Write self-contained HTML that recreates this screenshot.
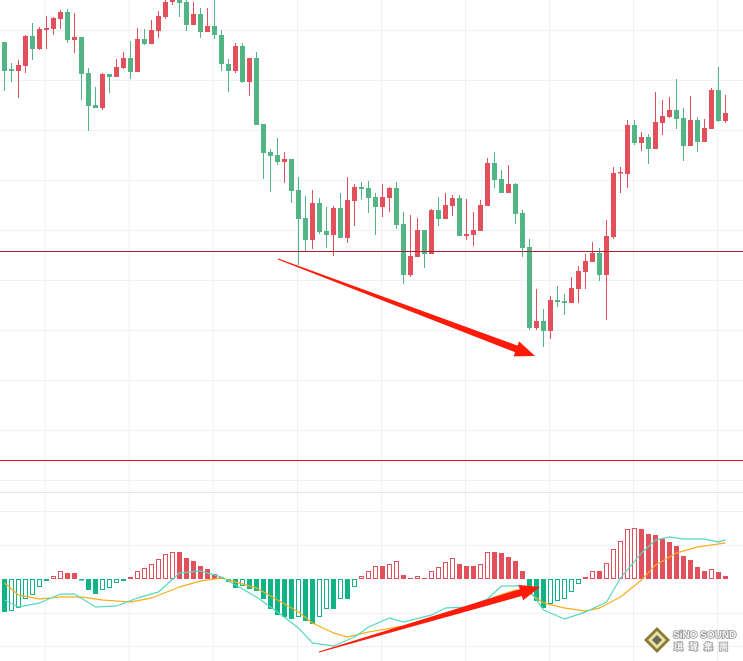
<!DOCTYPE html>
<html><head><meta charset="utf-8"><style>
html,body{margin:0;padding:0;background:#fff;}
svg{display:block;}
</style></head><body>
<svg id="chart" width="743" height="661" viewBox="0 0 743 661" xmlns="http://www.w3.org/2000/svg">
<g id="grid"></g>
<g id="candles"></g>
<g id="macd"></g>
<line x1="0" y1="251.5" x2="743" y2="251.5" stroke="#a8202a" stroke-width="1"/>
<line x1="0" y1="460.5" x2="743" y2="460.5" stroke="#e0101f" stroke-width="1"/>
<line x1="0" y1="492.5" x2="743" y2="492.5" stroke="#e3e6ea" stroke-width="1"/>
<polygon fill="#ff1a0a" points="277.8,259.5 515.1,352.2 513.5,356.4 535,356 519.1,341.4 517.5,345.6 278.2,258.5"/>
<polygon fill="#ff1a0a" points="319.1,652.5 521.8,596 523.1,600.3 540,587 518.5,584.9 519.8,589.2 318.9,651.5"/>
<g>
<polygon points="657,627 670,640 657,653 644,640" fill="#8a7d3a"/>
<polygon points="657,631 666,640 657,649 648,640" fill="#e8e0a0"/>
<polygon points="657,635 662,640 657,645 652,640" fill="#6a6a5a"/>
<text x="673" y="638" font-family="Liberation Sans, sans-serif" font-weight="bold" font-size="10" fill="#f6f6f6" stroke="#999" stroke-width="1.6" paint-order="stroke">SiNO SOUND</text>
<text x="674" y="650" font-family="Liberation Sans, 'Noto Sans CJK TC', sans-serif" font-weight="bold" font-size="9" fill="#f6f6f6" stroke="#999" stroke-width="1.6" paint-order="stroke" letter-spacing="6">琪聲集團</text>
</g>
</svg>
<script>
// Candles: open, high, low, close
const opens=[358,331,329,334,364,351,370,371,381,388,360,363,327,295,292,326,323,332,342,328,361,356,369,383,398,400,398,375,386,368,374,365,336,329,354,318,342,276,248,245,238,241,210,182,160,197,169,165,192,162,199,213,212,203,193,202,212,176,125,143,170,146,190,181,194,202,164,165,169,194,237,221,207,216,187,153,72,79,69,100,99,97,111,128,138,147,125,163,227,226,275,257,263,251,277,283,290,282,254,280,258,271,310,279];
const highs=[358,337,340,365,377,373,384,383,390,391,387,363,332,313,327,326,341,348,359,372,371,380,389,400,410,402,402,398,392,392,402,370,341,357,357,342,348,276,251,262,248,241,223,204,210,202,193,194,207,223,216,218,219,207,216,213,218,188,185,182,170,191,203,207,205,205,201,188,200,242,248,230,235,217,190,161,111,91,104,114,106,123,134,146,158,152,180,233,233,280,280,268,266,308,300,303,321,292,304,283,281,312,333,305];
const lows=[309,318,302,327,340,350,351,365,371,357,347,300,269,292,290,307,323,331,321,328,355,356,362,381,395,383,369,375,362,368,361,329,308,327,317,304,275,221,208,235,217,197,135,149,151,166,152,144,162,157,174,200,187,165,183,188,171,116,123,143,132,146,174,181,184,164,160,154,169,194,212,207,207,176,143,70,70,53,61,93,85,97,97,111,138,119,80,161,207,212,255,249,236,251,265,282,271,239,254,248,258,271,278,277];
const closes=[329,329,335,364,351,371,372,382,388,360,363,326,294,292,326,323,333,342,328,361,356,370,384,398,404,397,375,386,368,374,365,336,329,354,318,342,275,247,244,238,241,209,181,160,197,168,165,192,162,200,213,211,202,193,203,212,175,125,144,170,146,190,181,195,202,164,166,170,195,237,220,207,216,186,152,72,79,69,100,98,97,112,129,139,147,125,164,227,228,275,257,263,251,278,284,290,281,254,280,258,272,310,279,287];
// MACD histogram and line samples [candle index, value]
const hist=[-33,-32,-29,-20,-16,-8,-2,3,8,6,6,-1.5,-11,-15,-11,-9,-4,-1,2,8,11,15,20,25,27,27,21,18,13,10,5,2,-3,-9,-7,-10,-12,-20,-30,-36,-38,-40,-38,-42,-45,-38,-30,-30,-20,-20,-8,3,8,13,13,15,18,4,1,3,1,8,12,17,21,15,13,13,15,27,27,26,22,18,8,-10,-22,-29,-25,-22,-20,-13,-5,2,8,8,16,30,38,50,51,50,45,44,40,37,33,23,19,12,8,10,7,3];
const difIdx=[0,2,5,8,10,13,16,19,22,25,28,31,33,36,39,42,44,47,50,52,55,57,61,63,66,69,71,74,75,77,80,83,86,88,91,93,95,97,100,102,103];
const difVal=[-21,-28,-24,-15,-15,-28,-27,-19,-13,6,8,2,-6,-18,-33,-49,-64,-67,-58,-48,-39,-43,-36,-29,-28,-20,-7,-7,-11,-31,-40,-33,-23,1,26,39,42,40,40,37,39];
const deaIdx=[0,2,5,8,11,14,18,21,25,28,31,33,36,39,42,44,47,49,52,57,61,65,67,70,73,75,77,80,83,85,88,91,93,96,99,101,103];
const deaVal=[-4,-16,-20,-18,-18,-21,-23,-19,-8,-2,1,-3,-9,-21,-33,-44,-54,-58,-53,-47,-41,-34,-27,-18,-11,-14,-24,-29,-32,-29,-18,-1,14,26,32,34,36];

const NS="http://www.w3.org/2000/svg";
const xScale=i=>4.5+7*i;
const yPrice=p=>400-p;
const yMacd=v=>579-v;
const UP="#e2505c", DN="#53b585";
function mk(tag,attrs,parent){const e=document.createElementNS(NS,tag);for(const k in attrs)e.setAttribute(k,attrs[k]);parent.appendChild(e);return e;}

const grid=document.getElementById('grid');
[45,129,213,297.5,381.5,465.5,549.5,633.5,717.5].forEach(x=>{
  const l=mk('line',{x1:x,y1:0,x2:x,y2:661,stroke:'#eef2f6','stroke-width':1},grid);
  
  
});
[30.5,80.5,130.5,180.5,230.5,280.5,330.5,380.5,430.5,480.5,511.5,545.5,613.5,646.5].forEach(y=>{
  const l=mk('line',{x1:0,y1:y,x2:743,y2:y,stroke:'#eef2f6','stroke-width':1},grid);
  
  
});

const cg=document.getElementById('candles');
for(let i=0;i<opens.length;i++){
  const o=opens[i],c=closes[i],up=c>=o,col=up?UP:DN,x=xScale(i);
  const g=mk('g',{},cg);
  
  
  mk('line',{x1:x,y1:yPrice(highs[i]),x2:x,y2:yPrice(lows[i]),stroke:col,'stroke-width':1},g);
  const top=yPrice(Math.max(o,c)),h=Math.max(1.5,Math.abs(o-c));
  mk('rect',{x:x-2.5,y:top,width:5,height:h,fill:col},g);
}

const mg=document.getElementById('macd');
for(let i=0;i<hist.length;i++){
  const v=hist[i],prev=i>0?hist[i-1]:0,x=xScale(i);
  const pos=v>=0,col=pos?UP:"#0fb386";
  const hollow=v>prev;
  const y0=yMacd(0),y1=yMacd(v);
  const r=mk('rect',{x:x-2.5,y:Math.min(y0,y1)+(hollow?0.5:0),width:hollow?4:5,height:Math.max(1,Math.abs(y1-y0)-(hollow?1:0)),fill:hollow?'#fff':col,stroke:hollow?col:'none','stroke-width':1},mg);
  if(hollow)r.setAttribute('x',x-2);
  
  
}
function line(idx,vals,col,name){
  const d=idx.map((ix,k)=>(k?'L':'M')+xScale(ix).toFixed(1)+','+yMacd(vals[k]).toFixed(1)).join(' ');
  const p=mk('path',{d:d,fill:'none',stroke:col,'stroke-width':1.2,'stroke-linejoin':'round'},mg);
  
  
}
line(deaIdx,deaVal,'#f6ad1c','dea-line');
line(difIdx,difVal,'#56d8bd','dif-line');
</script>
</body></html>
